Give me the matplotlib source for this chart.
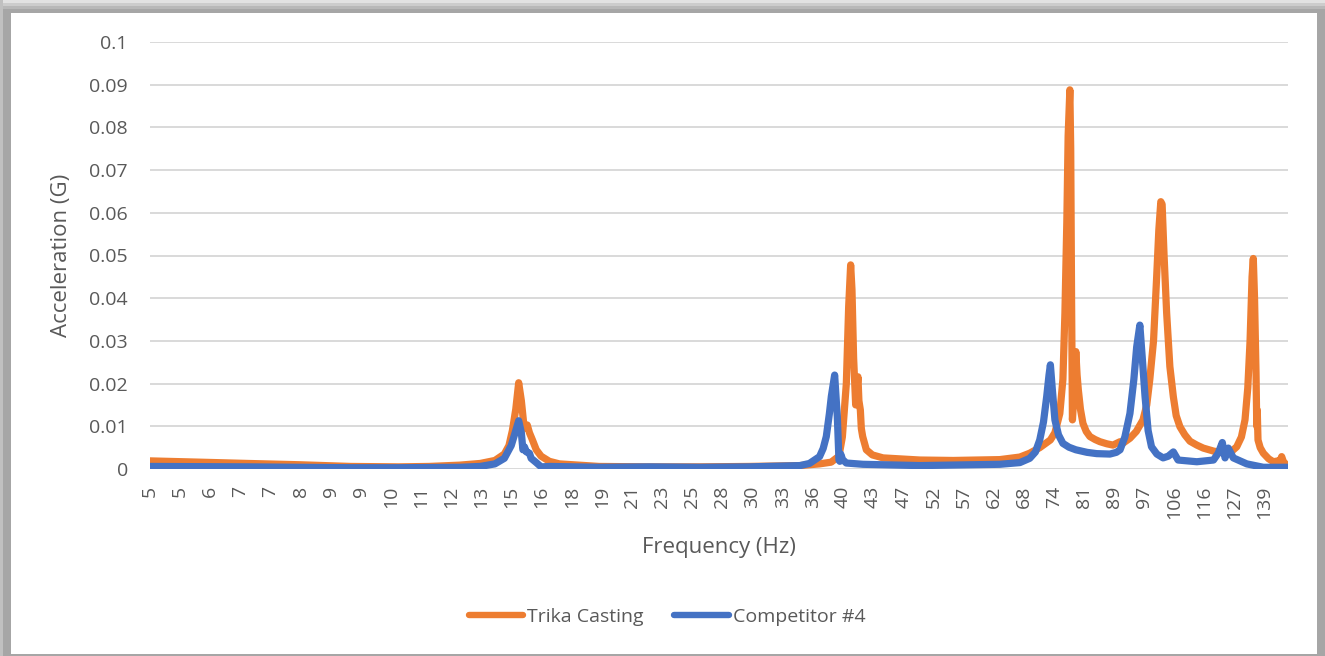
import numpy as np
import matplotlib
matplotlib.use("Agg")
import matplotlib.pyplot as plt
from matplotlib.patches import Rectangle
from matplotlib.lines import Line2D
from matplotlib.ticker import NullLocator

plt.rcParams["font.family"] = ["Open Sans", "DejaVu Sans"]

# frequency sweep (Hz, G)
trika_hz = [5.0, 5.8, 6.7, 7.8, 9.1, 10.5, 11.5, 12.6, 13.4, 14.0, 14.4, 14.6, 14.75,
            14.9, 15.03, 15.15, 15.25, 15.35, 15.42, 15.52, 15.66, 15.84, 16.07, 16.47,
            16.97, 19.1, 22.2, 25.8, 29.9, 34.8, 36.9, 38.2, 39.1, 39.5, 39.97, 40.25,
            40.49, 40.65, 40.85, 41.1, 41.38, 41.5, 41.68, 41.8, 41.97, 42.43, 43.2,
            44.6, 49.8, 55.0, 63.2, 67.1, 69.1, 71.2, 73.5, 74.5, 75.6, 76.3, 76.76,
            77.2, 77.5, 77.9, 78.1, 78.3, 78.5, 79.0, 79.3, 79.6, 79.9, 80.4, 81.0,
            81.8, 82.7, 84.0, 85.2, 87.0, 88.6, 90.5, 91.2, 93.2, 95.0, 96.9, 98.0,
            98.9, 100.0, 100.9, 101.6, 102.2, 102.6, 103.2, 104.0, 105.0, 106.1, 107.0,
            108.2, 109.8, 111.5, 113.8, 116.0, 119.6, 123.8, 126.0, 128.2, 130.0, 131.4,
            132.5, 133.4, 134.2, 134.7, 135.2, 135.8, 136.1, 136.3, 136.6, 137.5, 138.8,
            141.0, 143.0, 146.0, 146.6, 147.3, 149.4]
trika_g = [0.0019, 0.0016, 0.0013, 0.0010, 0.0006, 0.0005, 0.0006, 0.0009, 0.0013, 0.0020,
           0.0035, 0.0055, 0.0090, 0.0140, 0.0202, 0.0160, 0.0110, 0.0095, 0.0103, 0.0085,
           0.0068, 0.0045, 0.0030, 0.0018, 0.0012, 0.0006, 0.0005, 0.0005, 0.0006, 0.0008,
           0.0012, 0.0016, 0.0030, 0.0075, 0.0200, 0.0380, 0.0478, 0.0420, 0.0260, 0.0150,
           0.0216, 0.0160, 0.0138, 0.0095, 0.0076, 0.0045, 0.0033, 0.0026, 0.0021, 0.0020,
           0.0022, 0.0028, 0.0037, 0.0050, 0.0068, 0.0085, 0.0130, 0.0210, 0.0365, 0.0580,
           0.0780, 0.0888, 0.0750, 0.0400, 0.0115, 0.0200, 0.0275, 0.0220, 0.0185, 0.0140,
           0.0107, 0.0088, 0.0076, 0.0069, 0.0064, 0.0059, 0.0056, 0.0064, 0.0060, 0.0072,
           0.0088, 0.0115, 0.0150, 0.0210, 0.0300, 0.0443, 0.0560, 0.0626, 0.0620, 0.0500,
           0.0365, 0.0240, 0.0169, 0.0125, 0.0099, 0.0080, 0.0065, 0.0056, 0.0049, 0.0042,
           0.0037, 0.0040, 0.0052, 0.0075, 0.0115, 0.0190, 0.0300, 0.0450, 0.0493, 0.0400,
           0.0225, 0.0100, 0.0138, 0.0068, 0.0050, 0.0037, 0.0024, 0.0017, 0.0020, 0.0029,
           0.0018, 0.0005]

comp_hz = [5.0, 6.7, 7.8, 9.1, 10.5, 12.6, 13.4, 14.0, 14.4, 14.7, 14.9, 15.03, 15.15,
           15.22, 15.29, 15.38, 15.52, 15.6, 15.84, 16.07, 16.5, 19.1, 22.2, 25.8, 29.9,
           34.8, 35.8, 36.9, 37.3, 37.65, 38.0, 38.22, 38.6, 38.91, 39.1, 39.2, 39.3,
           39.53, 39.97, 42.0, 49.8, 63.2, 67.1, 69.1, 70.3, 71.2, 72.0, 72.7, 73.2,
           73.5, 73.9, 74.5, 75.3, 76.3, 77.7, 79.3, 82.0, 84.4, 87.8, 89.5, 90.5, 91.8,
           93.2, 94.3, 95.1, 96.0, 96.7, 97.5, 98.4, 99.4, 101.0, 102.9, 104.5, 106.1,
           107.6, 113.8, 119.6, 121.3, 122.8, 123.8, 125.0, 126.9, 132.1, 138.8, 149.4]
comp_g = [0.0006, 0.0005, 0.0004, 0.0003, 0.0003, 0.0004, 0.0006, 0.0012, 0.0025, 0.0055,
          0.0090, 0.0113, 0.0085, 0.0045, 0.0052, 0.0040, 0.0037, 0.0025, 0.0015, 0.0005,
          0.0006, 0.0004, 0.0005, 0.0004, 0.0005, 0.0008, 0.0013, 0.0029, 0.0048, 0.0076,
          0.0130, 0.0170, 0.0220, 0.0122, 0.0021, 0.0018, 0.0035, 0.0022, 0.0014, 0.0011,
          0.0008, 0.0011, 0.0015, 0.0025, 0.0040, 0.0068, 0.0110, 0.0170, 0.0220, 0.0244,
          0.0190, 0.0115, 0.0080, 0.0060, 0.0051, 0.0045, 0.0039, 0.0036, 0.0035, 0.0039,
          0.0045, 0.0075, 0.0130, 0.0210, 0.0286, 0.0337, 0.0260, 0.0170, 0.0090, 0.0052,
          0.0035, 0.0026, 0.0030, 0.0040, 0.0021, 0.0017, 0.0021, 0.0037, 0.0062, 0.0026,
          0.0049, 0.0026, 0.0012, 0.0004, 0.0004]

x_tick_labels = ["5", "5", "6", "7", "7", "8", "9", "9", "10", "11", "12", "13", "15",
                 "16", "18", "19", "21", "23", "25", "28", "30", "33", "36", "40", "43",
                 "47", "52", "57", "62", "68", "74", "81", "89", "97", "106", "116",
                 "127", "139"]
y_ticks = [0, 0.01, 0.02, 0.03, 0.04, 0.05, 0.06, 0.07, 0.08, 0.09, 0.1]
y_tick_labels = ["0", "0.01", "0.02", "0.03", "0.04", "0.05", "0.06", "0.07", "0.08",
                 "0.09", "0.1"]

orange = "#ED7D31"
blue = "#4472C4"
grey_txt = "#595959"
W, H = 1325, 656

fig = plt.figure(figsize=(W / 100, H / 100), dpi=100)
fig.patch.set_facecolor("#a6a6a6")

# chart-area frame with soft shadow
def px_rect(x0, y0, x1, y1, color):
    fig.add_artist(Rectangle((x0 / W, 1 - y1 / H), (x1 - x0) / W, (y1 - y0) / H,
                             transform=fig.transFigure, color=color, lw=0, zorder=0))

px_rect(0, 0, W, 3, "#e2e2e2")
px_rect(0, 3, W, 6, "#cccccc")
px_rect(0, 6, W, 9, "#b8b8b8")
px_rect(0, 0, 3, H, "#c0c0c0")
px_rect(11, 13, 1317, 654, "white")

ax = fig.add_axes([150 / W, 187 / H, 1138 / W, 427 / H])
ax.set_facecolor("none")

ax.plot(trika_hz, trika_g, color=orange, lw=5.2, solid_joinstyle="round",
        solid_capstyle="round", label="Trika Casting")
ax.plot(comp_hz, comp_g, color=blue, lw=5.2, solid_joinstyle="round",
        solid_capstyle="round", label="Competitor #4")

ax.set_xscale("log")
ax.set_xlim(5, 149.4)
ax.set_ylim(0, 0.1)
ax.set_xticks(5 * 1.0941 ** np.arange(len(x_tick_labels)))
ax.set_xticklabels(x_tick_labels, rotation=90)
ax.xaxis.set_minor_locator(NullLocator())
ax.set_yticks(y_ticks)
ax.set_yticklabels(y_tick_labels)
ax.tick_params(axis="both", length=0, labelcolor=grey_txt, labelsize=14)
ax.tick_params(axis="y", pad=16)
ax.tick_params(axis="x", pad=12)
ax.yaxis.grid(True, color="#d9d9d9", lw=1.4)
ax.set_axisbelow(True)
for s in ax.spines.values():
    s.set_visible(False)

fig.text(719 / W, 1 - 547 / H, "Frequency (Hz)", ha="center", va="center",
         fontsize=16, color=grey_txt)
fig.text(62 / W, 1 - 255 / H, "Acceleration (G)", ha="center", va="center",
         rotation=90, fontsize=16, color=grey_txt)

handles = [Line2D([], [], color=orange, lw=4.6, solid_capstyle="round"),
           Line2D([], [], color=blue, lw=4.6, solid_capstyle="round")]
leg = fig.legend(handles, ["Trika Casting", "Competitor #4"], loc="center",
                 bbox_to_anchor=(667 / W, 1 - 617 / H), ncol=2, frameon=False,
                 fontsize=14, handlelength=2.8, handletextpad=0.2, columnspacing=1.6)
for t in leg.get_texts():
    t.set_color(grey_txt)

fig.savefig("out.png", dpi=100)
